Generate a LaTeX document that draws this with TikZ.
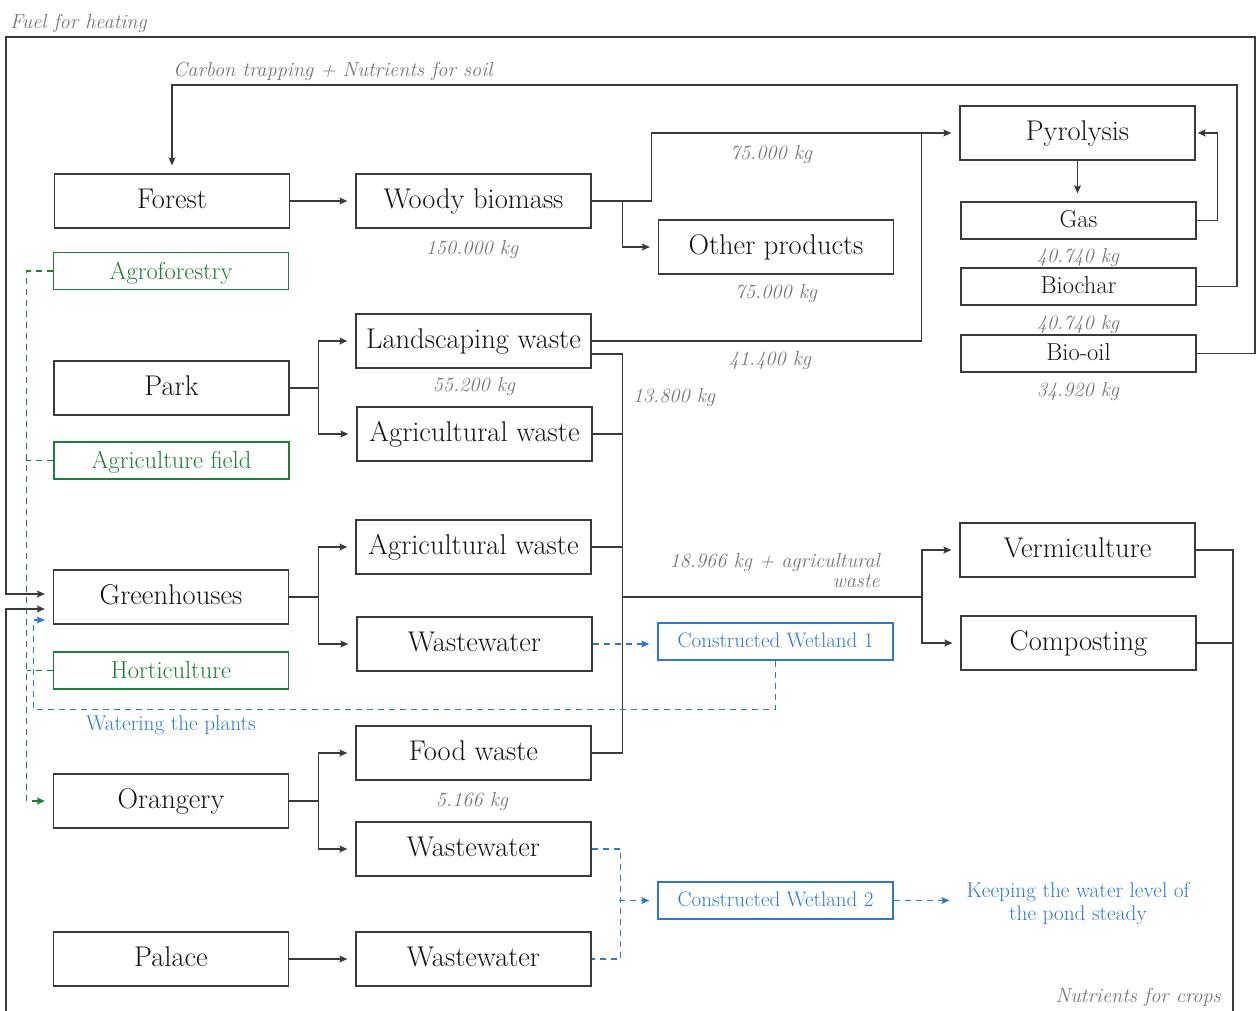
\documentclass[tikz,border=0pt]{standalone}
\usepackage{fontspec}
\usetikzlibrary{arrows.meta}
\definecolor{ink}{HTML}{141414}
\definecolor{edge}{HTML}{3A3A3A}
\definecolor{leaf}{HTML}{1F7D3B}
\definecolor{water}{HTML}{2D79CF}
\definecolor{note}{HTML}{777777}

\tikzset{
  base/.style={rectangle, inner sep=0pt, line width=1.3pt},
  stage/.style={base, draw=edge, text=ink, minimum width=235pt, minimum height=54pt,
    text height=19.5pt, text depth=5.5pt, font=\fontsize{28.5}{32}\selectfont},
  product/.style={base, draw=edge, text=ink, minimum width=235pt, minimum height=37pt,
    text height=17pt, text depth=3pt, font=\fontsize{24.5}{28}\selectfont},
  landuse/.style={base, draw=leaf, text=leaf, minimum width=235pt, minimum height=37pt,
    text height=18pt, text depth=2pt, font=\fontsize{24.5}{28}\selectfont},
  wetland/.style={base, draw=water, text=water, minimum width=235pt, minimum height=37pt,
    text height=15pt, text depth=3pt, font=\fontsize{21}{25}\selectfont},
  qty/.style={text=note, inner sep=0pt, anchor=base, font=\fontsize{20.3}{24}\selectfont\itshape},
  bluenote/.style={text=water, inner sep=0pt, font=\fontsize{21.3}{23}\selectfont},
  tip/.style={-{Stealth[length=8pt,width=7pt,inset=1.5pt]}},
  flow/.style={draw=edge, line width=1.2pt},
  arr/.style={flow, tip, shorten >=8pt},
  gdash/.style={draw=leaf, line width=1.2pt, dash pattern=on 6pt off 5pt},
  garr/.style={gdash, tip, shorten >=8pt},
  bdash/.style={draw=water, line width=1.3pt, dash pattern=on 6pt off 5pt},
  barr/.style={bdash, tip, shorten >=8pt}
}

\begin{document}
\begin{tikzpicture}[x=1pt,y=-1pt]
\fill[white] (0,0) rectangle (1257,1010);
\useasboundingbox (0,0) rectangle (1257,1010);
\clip (0,0) rectangle (1257,1010);

% sources and land uses
\node[stage] (forest) at (172,201) {Forest};
\node[landuse] (agro) at (171,271) {Agroforestry};
\node[stage] (park) at (171.5,388) {Park};
\node[landuse] (afield) at (171.5,460.5) {Agriculture field};
\node[stage] (green) at (171,597) {Greenhouses};
\node[landuse] (hort) at (171,670.5) {Horticulture};
\node[stage] (orang) at (171,801) {Orangery};
\node[stage] (palace) at (171,959) {Palace};

% residual streams
\node[stage] (woody) at (473.5,201) {Woody biomass};
\node[stage] (lands) at (473.5,341) {Landscaping waste};
\node[stage] (agri1) at (474.5,434) {Agricultural waste};
\node[stage] (agri2) at (473.5,547) {Agricultural waste};
\node[stage] (ww1) at (474.5,644) {Wastewater};
\node[stage] (food) at (473.5,753) {Food waste};
\node[stage] (ww2) at (473.5,849) {Wastewater};
\node[stage] (ww3) at (473.5,959) {Wastewater};

% treatment
\node[stage] (other) at (776,247) {Other products};
\node[stage] (pyro) at (1077.5,133) {Pyrolysis};
\node[product] (gas) at (1078.5,220.5) {Gas};
\node[product] (biochar) at (1078.5,286.5) {Biochar};
\node[product] (biooil) at (1078.5,353.5) {Bio-oil};
\node[stage] (verm) at (1077.5,550) {Vermiculture};
\node[stage] (comp) at (1078.5,643) {Composting};
\node[wetland] (cw1) at (775.5,641.5) {Constructed Wetland 1};
\node[wetland] (cw2) at (775.5,900.5) {Constructed Wetland 2};
\node[bluenote, align=center] (keep) at (1078,903.5) {Keeping the water level of\\the pond steady};

% quantities
\node[qty] (q1) at (771,159) {75.000 kg};
\node[qty] (q2) at (472,254) {150.000 kg};
\node[qty] (q3) at (776,298) {75.000 kg};
\node[qty] (q4) at (1078,262) {40.740 kg};
\node[qty] (q5) at (1078,329) {40.740 kg};
\node[qty] (q6) at (1078,396) {34.920 kg};
\node[qty] (q7) at (474,391) {55.200 kg};
\node[qty] (q8) at (770,365) {41.400 kg};
\node[qty] (q9) at (674,402) {13.800 kg};
\node[qty] (q10) at (472,806) {5.166 kg};
\node[qty, anchor=east, align=right, font=\fontsize{20.3}{20}\selectfont\itshape] (q11) at (880,571) {18.966 kg + agricultural\\waste};

% loop labels
\node[qty, anchor=base west] (fuel) at (10,28) {Fuel for heating};
\node[qty, anchor=base west] (carbon) at (173,76) {Carbon trapping + Nutrients for soil};
\node[qty, anchor=base east] (crops) at (1221,1002) {Nutrients for crops};
\node[bluenote, anchor=base] (watering) at (171,730) {Watering the plants};

% junction points
\coordinate (pyin) at ([xshift=-38pt]pyro.west);
\coordinate (bus) at (622,597);
\coordinate (split) at (922,597);
\coordinate (soil) at (1237,85);
\coordinate (fuelR) at (1255,37);
\coordinate (fuelL) at (6,37);
\coordinate (cropR) at (1233,1030);
\coordinate (cropL) at (6,1030);

% woody biomass route
\draw[arr] (forest) -- (woody);
\draw[arr] (woody.east) -- ++(60,0) |- (pyro.west);
\draw[arr] ([xshift=31pt]woody.east) |- (other.west);
\draw[flow] (lands.east) -| (pyin);

% organic waste to composting
\draw[flow] ([yshift=-13pt]lands.east) -- ++(31,0) |- (food.east);
\draw[flow] (agri1.east) -- ++(30,0);
\draw[flow] (agri2.east) -- ++(31,0);
\draw[flow] (bus) -- (split);
\draw[arr] (split) |- (verm.west);
\draw[arr] (split) |- (comp.west);

% sources to streams
\draw[arr] (park.east) -- ++(29,0) |- (lands.west);
\draw[arr] (park.east) -- ++(29,0) |- (agri1.west);
\draw[arr] (green.east) -- ++(29,0) |- (agri2.west);
\draw[arr] (green.east) -- ++(29,0) |- (ww1.west);
\draw[arr] (orang.east) -- ++(29,0) |- (food.west);
\draw[arr] (orang.east) -- ++(29,0) |- (ww2.west);
\draw[arr] (palace) -- (ww3);

% pyrolysis products
\draw[arr] (pyro.south) -- (pyro.south |- gas.north);
\draw[arr, shorten >=2pt] (gas.east) -- ++(21,0) |- (pyro.east);
\draw[arr] (biochar.east) -| (soil) -| (forest.north);
\draw[arr] (biooil.east) -| (fuelR) -- (fuelL) |- ([yshift=3pt]green.west);

% nutrients back to the greenhouses
\draw[arr] (verm.east) -| (cropR) -- (cropL) |- ([yshift=-12pt]green.west);
\draw[flow] (comp.east) -- (comp.east -| cropR);

% land uses
\draw[garr] (agro.west) -- ++(-26,0) |- (orang.west);
\draw[gdash] (afield.west) -- ++(-27,0);
\draw[gdash] (hort.west) -- ++(-26,0);

% water
\draw[barr] (ww1.east) -- (ww1.east -| cw1.west);
\draw[barr] (cw1.south) -- ++(0,48.5) -| ([xshift=-19.5pt,yshift=-23pt]green.west) -- ([yshift=-23pt]green.west);
\draw[bdash] (ww2.east) -- ++(29,0) |- (ww3.east);
\draw[barr] ([xshift=-38pt]cw2.west) -- (cw2.west);
\draw[barr, shorten >=17pt] (cw2.east) -- (cw2.east -| keep.west);
\end{tikzpicture}
\end{document}
